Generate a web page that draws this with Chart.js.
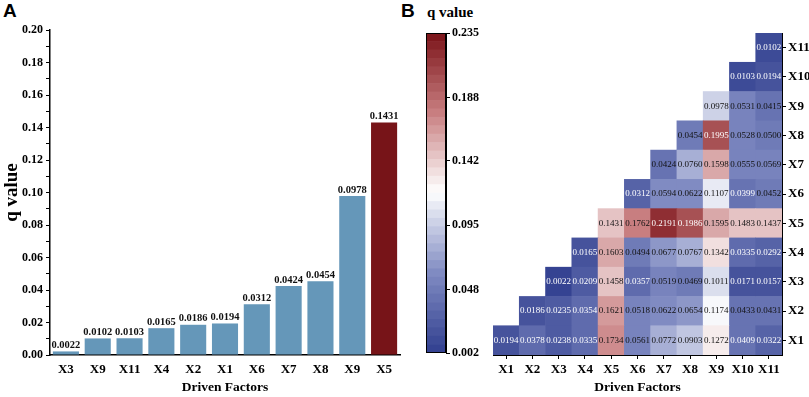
<!DOCTYPE html>
<html lang="en">
<head>
<meta charset="UTF-8">
<title>q value of driven factors</title>
<script src="https://cdn.jsdelivr.net/npm/chart.js"></script>
<style>
    html, body { margin: 0; padding: 0; background: #fff; }
    body { width: 809px; height: 397px; position: relative; overflow: hidden; }
    .box { position: absolute; top: 0; height: 397px; }
    .letter { position: absolute; font: bold 19px "Liberation Sans", Arial, sans-serif; color: #000; }
    .cbTitle { position: absolute; font: bold 15px "Liberation Serif", "Times New Roman", serif; color: #000; }
</style>
</head>
<body>
<div class="letter" style="left:3px; top:0px;">A</div>
<div class="letter" style="left:401px; top:0px;">B</div>
<div class="cbTitle" style="left:427px; top:4px;">q value</div>
<div class="box" style="left:0; width:410px;"><canvas id="barChart"></canvas></div>
<div class="box" style="left:405px; width:85px;"><canvas id="colorbar"></canvas></div>
<div class="box" style="left:490px; width:319px;"><canvas id="heatmap"></canvas></div>

<script>
    // ---- panel A: single factor q values ----
    const barFactors = ['X3', 'X9', 'X11', 'X4', 'X2', 'X1', 'X6', 'X7', 'X8', 'X9', 'X5'];
    const barValues = [0.0022, 0.0102, 0.0103, 0.0165, 0.0186, 0.0194, 0.0312, 0.0424, 0.0454, 0.0978, 0.1431];

    // ---- panel B: interaction q values, each row starts at its own column ----
    const factors = ['X1', 'X2', 'X3', 'X4', 'X5', 'X6', 'X7', 'X8', 'X9', 'X10', 'X11'];
    const rowX1 = [0.0194, 0.0378, 0.0238, 0.0335, 0.1734, 0.0561, 0.0772, 0.0903, 0.1272, 0.0409, 0.0322];
    const rowX2 = [0.0186, 0.0235, 0.0354, 0.1621, 0.0518, 0.0622, 0.0654, 0.1174, 0.0433, 0.0431];
    const rowX3 = [0.0022, 0.0209, 0.1458, 0.0357, 0.0519, 0.0469, 0.1011, 0.0171, 0.0157];
    const rowX4 = [0.0165, 0.1603, 0.0494, 0.0677, 0.0767, 0.1342, 0.0335, 0.0292];
    const rowX5 = [0.1431, 0.1762, 0.2191, 0.1986, 0.1595, 0.1483, 0.1437];
    const rowX6 = [0.0312, 0.0594, 0.0622, 0.1107, 0.0399, 0.0452];
    const rowX7 = [0.0424, 0.076, 0.1598, 0.0555, 0.0569];
    const rowX8 = [0.0454, 0.1995, 0.0528, 0.0500];
    const rowX9 = [0.0978, 0.0531, 0.0415];
    const rowX10 = [0.0103, 0.0194];
    const rowX11 = [0.0102];
    const matrix = [rowX1, rowX2, rowX3, rowX4, rowX5, rowX6, rowX7, rowX8, rowX9, rowX10, rowX11];

    const qMin = 0.002, qMax = 0.235;
    const cbarTicks = [0.002, 0.048, 0.095, 0.142, 0.188, 0.235];
    const nBands = 38;

    Chart.defaults.font.family = '"Liberation Serif", "Times New Roman", serif';
    Chart.defaults.color = '#000';

    const stops = [
        [0, [49, 63, 143]],
        [0.25, [128, 139, 194]],
        [0.45, [226, 229, 241]],
        [0.5, [255, 255, 255]],
        [0.56, [242, 226, 226]],
        [0.75, [200, 126, 128]],
        [1, [122, 18, 24]]
    ];
    function rampColor(t) {
        for (let i = 1; i < stops.length; i++) {
            if (t <= stops[i][0]) {
                const a = stops[i - 1], b = stops[i];
                const f = (t - a[0]) / (b[0] - a[0]);
                const c = a[1].map((x, k) => Math.round(x + (b[1][k] - x) * f));
                return `rgb(${c[0]},${c[1]},${c[2]})`;
            }
        }
        const c = stops[stops.length - 1][1];
        return `rgb(${c[0]},${c[1]},${c[2]})`;
    }
    function qColor(v) {
        let t = (v - qMin) / (qMax - qMin);
        let k = Math.min(nBands - 1, Math.max(0, Math.floor(t * nBands)));
        return rampColor((k + 0.5) / nBands);
    }

    const boldTick = { family: '"Liberation Serif", "Times New Roman", serif', size: 12, weight: 'bold' };
    const boldTitle = { family: '"Liberation Serif", "Times New Roman", serif', size: 13.5, weight: 'bold' };

    // value labels above bars
    const barLabels = {
        id: 'barLabels',
        afterDatasetsDraw(chart) {
            const ctx = chart.ctx;
            ctx.save();
            ctx.font = 'bold 10.5px "Liberation Serif", serif';
            ctx.fillStyle = '#111';
            ctx.textAlign = 'center';
            ctx.textBaseline = 'bottom';
            chart.getDatasetMeta(0).data.forEach((el, i) => {
                ctx.fillText(barValues[i].toFixed(4), el.x, el.y - 1);
            });
            ctx.restore();
        }
    };

    new Chart(document.getElementById('barChart'), {
        type: 'bar',
        data: {
            labels: barFactors,
            datasets: [{
                data: barValues,
                backgroundColor: barValues.map((v, i) => i === barValues.length - 1 ? '#771418' : '#6597B9'),
                barPercentage: 0.82,
                categoryPercentage: 1
            }]
        },
        options: {
            responsive: true,
            maintainAspectRatio: false,
            animation: false,
            layout: { padding: { top: 30, right: 10, left: 0, bottom: 0 } },
            plugins: { legend: { display: false }, tooltip: { enabled: false } },
            scales: {
                x: {
                    grid: { display: false, drawTicks: false },
                    border: { color: '#000', width: 1.5 },
                    ticks: { font: { ...boldTick, size: 13 }, padding: 7, maxRotation: 0, autoSkip: false },
                    title: { display: true, text: 'Driven Factors', font: boldTitle, padding: { top: 0, bottom: 1 } },
                    afterFit: s => { s.height = 42; }
                },
                y: {
                    min: 0, max: 0.2,
                    grid: { drawOnChartArea: false, color: '#000', tickLength: 4 },
                    border: { color: '#000', width: 1.5 },
                    ticks: {
                        stepSize: 0.01, autoSkip: false, font: boldTick, padding: 3,
                        callback: v => Math.round(v * 100) % 2 === 0 ? v.toFixed(2) : ''
                    },
                    title: { display: true, text: 'q value', font: { ...boldTitle, size: 19 }, padding: { top: 1, bottom: 0 } },
                    afterFit: s => { s.width = 50; }
                }
            }
        },
        plugins: [barLabels]
    });

    // ---- colorbar ----
    const bandStep = (qMax - qMin) / nBands;
    const outline = {
        id: 'outline',
        afterDraw(chart) {
            const a = chart.chartArea, ctx = chart.ctx;
            ctx.save();
            ctx.strokeStyle = '#000';
            ctx.lineWidth = 1;
            ctx.strokeRect(a.left + 0.5, a.top + 0.5, a.right - a.left - 1, a.bottom - a.top - 1);
            ctx.restore();
        }
    };
    new Chart(document.getElementById('colorbar'), {
        type: 'bar',
        data: {
            labels: [''],
            datasets: Array.from({ length: nBands }, (_, k) => ({
                data: [[qMin + k * bandStep, qMin + (k + 1) * bandStep]],
                backgroundColor: rampColor((k + 0.5) / nBands),
                borderWidth: 0,
                grouped: false,
                barPercentage: 1,
                categoryPercentage: 1
            }))
        },
        options: {
            responsive: true,
            maintainAspectRatio: false,
            animation: false,
            layout: { padding: { top: 33, right: 0, left: 21, bottom: 44 } },
            plugins: { legend: { display: false }, tooltip: { enabled: false } },
            scales: {
                x: { display: false },
                y: {
                    position: 'right',
                    min: qMin, max: qMax,
                    afterBuildTicks: s => { s.ticks = cbarTicks.map(v => ({ value: v })); },
                    grid: { drawOnChartArea: false, color: '#000', tickLength: 4 },
                    border: { color: '#000', width: 1 },
                    ticks: { font: boldTick, padding: 2, callback: v => v.toFixed(3) },
                    afterFit: s => { s.width = 44; }
                }
            }
        },
        plugins: [outline]
    });

    // ---- heatmap (lower-right triangle) ----
    const heatDatasets = matrix.map((row, r) => {
        const q = factors.map((f, c) => c >= r ? row[c - r] : null);
        return {
            data: q.map(v => v === null ? null : [r + 0.5, r + 1.5]),
            q: q,
            backgroundColor: q.map(v => v === null ? 'rgba(0,0,0,0)' : qColor(v)),
            borderWidth: 0,
            grouped: false,
            barPercentage: 1,
            categoryPercentage: 1
        };
    });

    const cellText = {
        id: 'cellText',
        afterDatasetsDraw(chart) {
            const ctx = chart.ctx;
            ctx.save();
            ctx.font = '9px "Liberation Serif", serif';
            ctx.textAlign = 'center';
            ctx.textBaseline = 'middle';
            chart.data.datasets.forEach((ds, i) => {
                chart.getDatasetMeta(i).data.forEach((el, j) => {
                    const v = ds.q[j];
                    if (v === null) return;
                    ctx.fillStyle = (v < 0.041 || v > 0.19) ? '#fff' : '#111';
                    ctx.fillText(v.toFixed(4), el.x, (el.y + el.base) / 2);
                });
            });
            ctx.restore();
        }
    };

    new Chart(document.getElementById('heatmap'), {
        type: 'bar',
        data: { labels: factors, datasets: heatDatasets },
        options: {
            responsive: true,
            maintainAspectRatio: false,
            animation: false,
            layout: { padding: { top: 33, right: 0, left: 3, bottom: 0 } },
            plugins: { legend: { display: false }, tooltip: { enabled: false } },
            scales: {
                x: {
                    grid: { drawOnChartArea: false, offset: false, color: '#000', tickLength: 4 },
                    border: { color: '#000', width: 1 },
                    ticks: { font: { ...boldTick, size: 13 }, padding: 3, maxRotation: 0, autoSkip: false },
                    title: { display: true, text: 'Driven Factors', font: boldTitle, padding: { top: 0, bottom: 1 } },
                    afterFit: s => { s.height = 42; }
                },
                y: {
                    position: 'right',
                    min: 0.5, max: 11.5,
                    afterBuildTicks: s => { s.ticks = factors.map((f, i) => ({ value: i + 1 })); },
                    grid: { drawOnChartArea: false, color: '#000', tickLength: 4 },
                    border: { color: '#000', width: 1 },
                    ticks: { font: { ...boldTick, size: 13 }, padding: 2, callback: v => factors[v - 1] },
                    afterFit: s => { s.width = 27; }
                }
            }
        },
        plugins: [cellText]
    });
</script>
</body>
</html>
